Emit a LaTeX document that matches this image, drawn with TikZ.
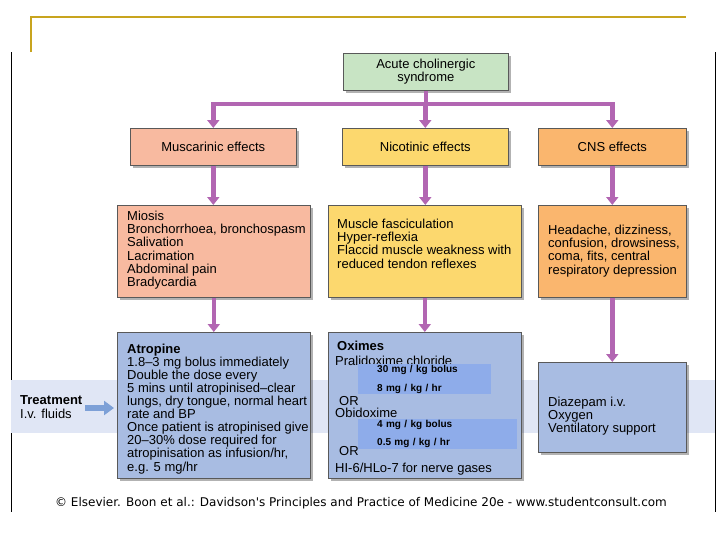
\documentclass[tikz,border=0pt]{standalone}
\usepackage{fontspec}
\setmainfont{Liberation Sans}
\newfontfamily\footfont{DejaVu Sans}
\usetikzlibrary{
	arrows.meta,
	shadows,
	positioning
}
\definecolor{conpurple}{RGB}{178,102,178}
\definecolor{topgreen}{RGB}{200,228,196}
\definecolor{muscsalmon}{RGB}{248,186,160}
\definecolor{nicyellow}{RGB}{252,216,110}
\definecolor{cnsorange}{RGB}{250,182,110}
\definecolor{treatblue}{RGB}{168,188,226}
\definecolor{bandblue}{RGB}{224,230,245}
\definecolor{hlblue}{RGB}{142,172,234}
\definecolor{arrblue}{RGB}{125,160,215}
\definecolor{framegold}{RGB}{200,164,30}

\begin{document}
\begin{tikzpicture}[x=1pt, y=-1pt,
    every node/.style={inner sep=0pt, font=\fontsize{13}{13.3}\selectfont},
    box/.style={draw=black!65, line width=0.6pt, anchor=north west,
        drop shadow={shadow xshift=2.5pt, shadow yshift=-2.5pt, fill=black, opacity=0.3}},
    txt/.style={align=left, anchor=north west},
    conn/.style={draw=conpurple, line width=4.5pt},
    arr/.style={conn, -{Triangle[width=12pt,length=8pt]}},
    hl/.style={fill=hlblue, anchor=north west, align=left, inner xsep=19pt,
        font=\bfseries\fontsize{10}{19}\selectfont}
]
    % Definitions
    \useasboundingbox (0,0) rectangle (728,546);
    \coordinate (bar)    at (0,104);
    \coordinate (tstart) at (85,408);
    % Frame
    \draw[framegold, line width=1.5pt] (31,52) -- (31,17) -- (686,17);
    \draw[black, line width=1pt] (11,52) -- (11,512);
    \draw[black, line width=1pt] (715,52) -- (715,512);
    % Treatment band
    \fill[bandblue] (11,380) rectangle (715,433);
    % Boxes
    \node[box, fill=topgreen, minimum width=165pt, minimum height=37pt, align=center]
        (acs) at (343,53) {Acute cholinergic\\syndrome};
    \node[box, fill=muscsalmon, minimum width=166pt, minimum height=37pt] (mus) at (130,128) {Muscarinic effects};
    \node[box, fill=nicyellow,  minimum width=166pt, minimum height=37pt] (nic) at (342,128) {Nicotinic effects};
    \node[box, fill=cnsorange,  minimum width=148pt, minimum height=37pt] (cns) at (538,128) {CNS effects};
    \node[box, fill=muscsalmon, minimum width=193pt, minimum height=92pt] (musD) at (117,205) {};
    \node[box, fill=nicyellow,  minimum width=193pt, minimum height=92pt] (nicD) at (328,205) {};
    \node[box, fill=cnsorange,  minimum width=148pt, minimum height=92pt] (cnsD) at (538,205) {};
    \node[box, fill=treatblue,  minimum width=193pt, minimum height=146pt] (atr) at (117,332) {};
    \node[box, fill=treatblue,  minimum width=193pt, minimum height=146pt] (oxi) at (328,332) {};
    \node[box, fill=treatblue,  minimum width=148pt, minimum height=90pt]  (dia) at (538,362) {};
    % Box texts
    \node[txt, below right=5.5pt and 10pt of musD.north west] (musT)
        {Miosis\\Bronchorrhoea, bronchospasm\\Salivation\\Lacrimation\\Abdominal pain\\Bradycardia};
    \node[txt, below right=13.5pt and 9pt of nicD.north west] (nicT)
        {Muscle fasciculation\\Hyper-reflexia\\Flaccid muscle weakness with\\reduced tendon reflexes};
    \node[txt, below right=19.5pt and 10pt of cnsD.north west] (cnsT)
        {Headache, dizziness,\\confusion, drowsiness,\\coma, fits, central\\respiratory depression};
    \node[txt, font=\fontsize{13}{13.1}\selectfont, below right=11.5pt and 10pt of atr.north west] (atrT)
        {\textbf{Atropine}\\1.8\textendash3 mg bolus immediately\\Double the dose every\\5 mins until atropinised\textendash clear\\lungs, dry tongue, normal heart\\rate and BP\\Once patient is atropinised give\\20\textendash30\% dose required for\\atropinisation as infusion/hr,\\e.g. 5 mg/hr};
    \node[txt, below right=34.5pt and 10pt of dia.north west] (diaT)
        {Diazepam i.v.\\Oxygen\\Ventilatory support};
    % Oximes
    \node[txt] (oxA) at (337,340.5) {\textbf{Oximes}};
    \node[txt] (oxB) at (335,355.5) {Pralidoxime chloride};
    \node[txt] (orA) at (339,396) {OR};
    \node[txt] (oxC) at (335,407.5) {Obidoxime};
    \node[txt] (orB) at (339,446.5) {OR};
    \node[txt] (oxD) at (335,462.5) {HI-6/HLo-7 for nerve gases};
    \node[hl, text width=95pt, minimum height=30pt] (hlA) at (358,364)
        {30 mg / kg bolus\\8 mg / kg / hr};
    \node[hl, text width=121pt, minimum height=30pt, font=\bfseries\fontsize{10}{18}\selectfont] (hlB) at (358,419)
        {4 mg / kg bolus\\0.5 mg / kg / hr};
    % Treatment
    \node[txt, font=\fontsize{13}{14}\selectfont] (treat) at (20,395)
        {\textbf{Treatment}\\I.v. fluids};
    \draw[arrblue, line width=6pt, -{Triangle[width=14pt,length=10pt]}]
        (tstart) -- ([xshift=-3pt]atr.west |- tstart);
    % Connectors
    \draw[conn] (acs.south) -- (acs.south |- bar);
    \draw[conn, line cap=rect] (mus.north |- bar) -- (cns.north |- bar);
    \draw[arr] (mus.north |- bar) -- (mus.north);
    \draw[arr] (nic.north |- bar) -- (nic.north);
    \draw[arr] (cns.north |- bar) -- (cns.north);
    \draw[arr] (mus.south)  -- (mus.south |- musD.north);
    \draw[arr] (nic.south)  -- (nic.south |- nicD.north);
    \draw[arr] (cns.south)  -- (cns.south |- cnsD.north);
    \draw[arr] (musD.south) -- (musD.south |- atr.north);
    \draw[arr] (nicD.south) -- (nicD.south |- oxi.north);
    \draw[arr] (cnsD.south) -- (cnsD.south |- dia.north);
    % Source line
    \node[font=\footfont\fontsize{12}{14}\selectfont] (src) at (361,503)
        {© Elsevier. Boon et al.: Davidson's Principles and Practice of Medicine 20e - www.studentconsult.com};
\end{tikzpicture}
\end{document}
